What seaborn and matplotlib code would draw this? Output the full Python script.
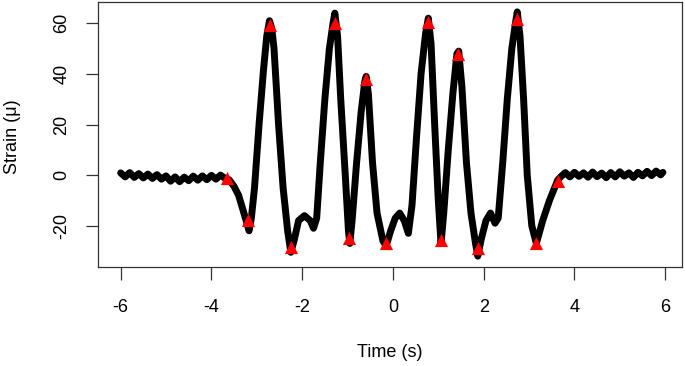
import matplotlib
matplotlib.use("Agg")
import matplotlib.pyplot as plt
import seaborn as sns
import pandas as pd

# strain trace (time in s, strain in micro)
time_s = [
    -6.0, -5.9, -5.8, -5.7, -5.6, -5.5, -5.4, -5.3, -5.2, -5.1, -5.0, -4.9,
    -4.8, -4.7, -4.6, -4.5, -4.4, -4.3, -4.2, -4.1, -4.0, -3.9, -3.8, -3.7,
    -3.66, -3.6, -3.5, -3.4, -3.3, -3.22, -3.17, -3.12, -3.05, -2.95, -2.85,
    -2.78, -2.72, -2.67, -2.62, -2.52, -2.42, -2.32, -2.25, -2.18, -2.08,
    -1.95, -1.82, -1.75, -1.68, -1.6, -1.5, -1.4, -1.32, -1.28, -1.22,
    -1.15, -1.05, -0.98, -0.95, -0.9, -0.8, -0.7, -0.62, -0.59, -0.54,
    -0.45, -0.35, -0.22, -0.15, -0.05, 0.05, 0.15, 0.25, 0.34, 0.42, 0.52,
    0.62, 0.72, 0.78, 0.84, 0.92, 1.0, 1.06, 1.12, 1.22, 1.32, 1.41, 1.45,
    1.52, 1.62, 1.72, 1.82, 1.87, 1.95, 2.05, 2.15, 2.25, 2.32, 2.42, 2.52,
    2.62, 2.7, 2.74, 2.8, 2.88, 2.96, 3.06, 3.16, 3.3, 3.45, 3.63,
    3.7, 3.8, 3.9, 4.0, 4.1, 4.2, 4.3, 4.4, 4.5, 4.6, 4.7, 4.8, 4.9, 5.0,
    5.1, 5.2, 5.3, 5.4, 5.5, 5.6, 5.7, 5.8, 5.9, 5.95,
]
strain = [
    0.9, -0.7, 1.0, -0.9, 0.6, -1.1, 0.4, -1.3, 0.2, -1.6, -0.3, -2.4,
    -0.7, -2.6, -0.8, -2.2, -0.4, -2.0, -0.3, -1.8, -0.1, -1.6, 0.0, -1.3,
    -1.3, -2.0, -4.5, -8.0, -14.0, -19.0, -22.0, -17.0, -5.0, 20.0, 42.0,
    55.0, 61.0, 58.0, 50.0, 20.0, -5.0, -22.0, -30.5, -26.0, -18.0,
    -16.0, -18.0, -21.0, -17.0, 5.0, 30.0, 50.0, 60.0, 64.0, 55.0,
    30.0, 0.0, -22.0, -27.0, -18.0, 5.0, 25.0, 37.0, 39.0, 32.0,
    5.0, -15.0, -26.0, -28.0, -22.0, -17.0, -15.0, -18.0, -23.0, -12.0, 15.0,
    40.0, 56.0, 62.0, 52.0, 20.0, -10.0, -27.0, -15.0, 10.0, 32.0, 48.0, 49.0,
    35.0, 5.0, -15.0, -27.0, -32.0, -25.0, -18.0, -15.0, -19.0, -17.0, 5.0, 30.0,
    50.0, 60.0, 64.5, 55.0, 30.0, 0.0, -20.0, -27.0, -18.0, -10.0, -2.0,
    -0.6, 1.0, -0.7, 1.1, -0.5, 0.9, -0.8, 1.2, -0.6, 0.8, -1.0, 1.0, -0.7, 1.3,
    -0.4, 0.9, -0.9, 1.1, -0.3, 1.5, -0.2, 1.6, 0.1, 1.1,
]

# detected peaks / troughs (red triangles)
peak_time = [-3.66, -3.19, -2.71, -2.25, -1.28, -0.96, -0.59, -0.15,
             0.78, 1.06, 1.44, 1.87, 2.74, 3.16, 3.63]
peak_strain = [-1.3, -17.8, 59.3, -28.3, 60.2, -25.0, 37.9, -27.0,
               60.6, -25.7, 48.0, -28.7, 61.5, -26.8, -2.2]

trace = pd.DataFrame({"time": time_s, "strain": strain})
peaks = pd.DataFrame({"time": peak_time, "strain": peak_strain})

sns.set_style("white")
plt.rcParams["font.family"] = ["Liberation Sans", "DejaVu Sans"]
plt.rcParams["axes.unicode_minus"] = False
plt.rcParams["text.color"] = "black"
plt.rcParams["axes.labelcolor"] = "black"
plt.rcParams["xtick.color"] = "black"
plt.rcParams["ytick.color"] = "black"

fig = plt.figure(figsize=(6.85, 3.66), dpi=100)
ax = fig.add_axes([0.143, 0.2705, 0.8526, 0.724])

sns.lineplot(data=trace, x="time", y="strain", sort=False, estimator=None,
             color="black", linewidth=5, ax=ax,
             solid_joinstyle="round", solid_capstyle="round")
sns.scatterplot(data=peaks, x="time", y="strain", marker="^", color="red",
                s=90, edgecolor="red", linewidth=0, zorder=3, ax=ax)

ax.set_xlim(-6.5, 6.37)
ax.set_ylim(-36.3, 68.4)
ax.set_xticks([-6, -4, -2, 0, 2, 4, 6])
ax.set_yticks([-20, 0, 20, 40, 60])
ax.tick_params(axis="both", direction="out", length=9, width=0.9,
               color="#333333", labelcolor="black", labelsize=13,
               bottom=True, left=True)
ax.tick_params(axis="x", pad=14)
ax.tick_params(axis="y", pad=11)
for lab in ax.get_yticklabels():
    lab.set_rotation(90)
    lab.set_va("center")

for sp in ax.spines.values():
    sp.set_color("#333333")
    sp.set_linewidth(0.9)

ax.set_xlabel("Time (s)", fontsize=13, va="center", color="black")
ax.xaxis.set_label_coords(0.5, -0.3245)
ax.set_ylabel("Strain (μ)", fontsize=13, va="center", color="black")
ax.yaxis.set_label_coords(-0.147, 0.49)

fig.savefig("out.png", dpi=100)
